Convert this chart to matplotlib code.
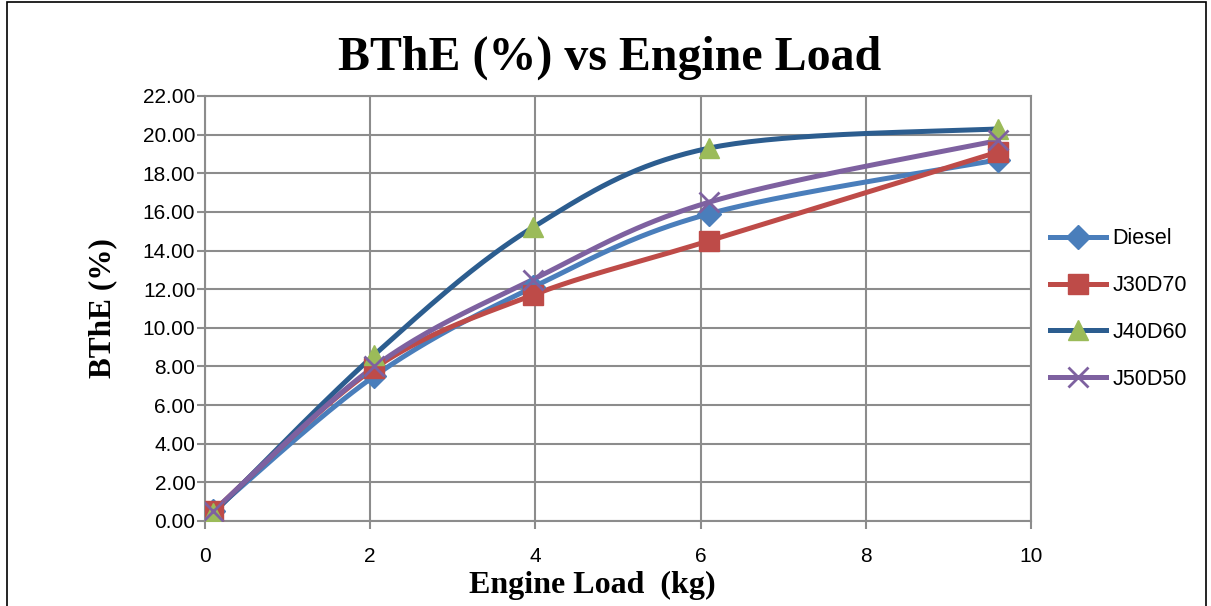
import numpy as np
import matplotlib
matplotlib.use("Agg")
import matplotlib.pyplot as plt
from matplotlib.patches import Rectangle

# engine load (kg) and BThE (%)
load = [0.1, 2.05, 3.97, 6.1, 9.6]
diesel = [0.5, 7.5, 12.1, 15.9, 18.7]
j30d70 = [0.5, 7.9, 11.7, 14.5, 19.1]
j40d60 = [0.4, 8.6, 15.2, 19.3, 20.3]
j50d50 = [0.5, 8.0, 12.5, 16.5, 19.7]
yticks = [0, 2, 4, 6, 8, 10, 12, 14, 16, 18, 20, 22]
xticks = [0, 2, 4, 6, 8, 10]


def smooth(x, y, n=40):
    # excel-like smoothed line (catmull-rom style bezier)
    p = np.column_stack([x, y]).astype(float)
    out = []
    for i in range(len(p) - 1):
        p0 = p[i - 1] if i > 0 else p[i]
        p1, p2 = p[i], p[i + 1]
        p3 = p[i + 2] if i + 2 < len(p) else p[i + 1]
        c1 = p1 + (p2 - p0) / 6
        c2 = p2 - (p3 - p1) / 6
        t = np.linspace(0, 1, n)[:, None]
        seg = (1 - t) ** 3 * p1 + 3 * (1 - t) ** 2 * t * c1 + 3 * (1 - t) * t ** 2 * c2 + t ** 3 * p2
        out.append(seg if i == 0 else seg[1:])
    s = np.vstack(out)
    return s[:, 0], s[:, 1]


series = [
    ("Diesel", diesel, "#4A7EBB", "#4A7EBB", "D", 12),
    ("J30D70", j30d70, "#BE4B48", "#BE4B48", "s", 14),
    ("J40D60", j40d60, "#2C5D8F", "#9BBB59", "^", 15),
    ("J50D50", j50d50, "#7E61A0", "#7E61A0", "x", 14),
]

fig = plt.figure(figsize=(12.11, 6.06), dpi=100)
ax = fig.add_axes([0.1693, 0.1403, 0.6821, 0.7013])

for name, vals, lc, mc, mk, ms in series:
    sx, sy = smooth(load, vals)
    ax.plot(sx, sy, color=lc, lw=3.6, solid_capstyle="round", zorder=3)
    ax.plot(load, vals, linestyle="none", marker=mk, markersize=ms,
            color=mc, markeredgecolor=mc, markeredgewidth=2 if mk == "x" else 1, zorder=4)
    ax.plot([], [], color=lc, lw=3.6, marker=mk, markersize=ms,
            markerfacecolor=mc, markeredgecolor=mc,
            markeredgewidth=2 if mk == "x" else 1, label=name)

ax.set_xlim(0, 10)
ax.set_ylim(0, 22)
ax.set_xticks(xticks)
ax.set_yticks(yticks)
ax.set_yticklabels(["%.2f" % v for v in yticks])
ax.grid(True, color="#8c8c8c", lw=1.5)
ax.set_axisbelow(True)
for s in ax.spines.values():
    s.set_color("#8c8c8c")
    s.set_linewidth(1.5)
ax.tick_params(axis="both", labelsize=15, color="#8c8c8c", length=6, width=1.5)
ax.tick_params(axis="x", pad=13)
ax.tick_params(axis="y", pad=1)
for lab in ax.get_xticklabels() + ax.get_yticklabels():
    lab.set_fontfamily("Liberation Sans")

ax.set_xlabel("Engine Load  (kg)", fontsize=23, fontweight="bold",
              fontfamily="Liberation Serif")
ax.xaxis.set_label_coords(0.4685, -0.118)
ax.set_ylabel("BThE (%)", fontsize=22.5, fontweight="bold",
              fontfamily="Liberation Serif", labelpad=18)
fig.text(0.503, 0.905, "BThE (%) vs Engine Load", ha="center", va="center",
         fontsize=34.5, fontweight="bold", fontfamily="Liberation Serif")

leg = fig.legend(loc="center left", bbox_to_anchor=(0.851, 0.49), frameon=False,
                 handlelength=2.6, labelspacing=1.2, handletextpad=0.3,
                 prop={"family": "Liberation Sans", "size": 15.5})

fig.patches.append(Rectangle((0.006, -0.1), 0.99, 1.097, transform=fig.transFigure,
                             fill=False, edgecolor="black", lw=1.2))

fig.savefig("out.png", dpi=100)
